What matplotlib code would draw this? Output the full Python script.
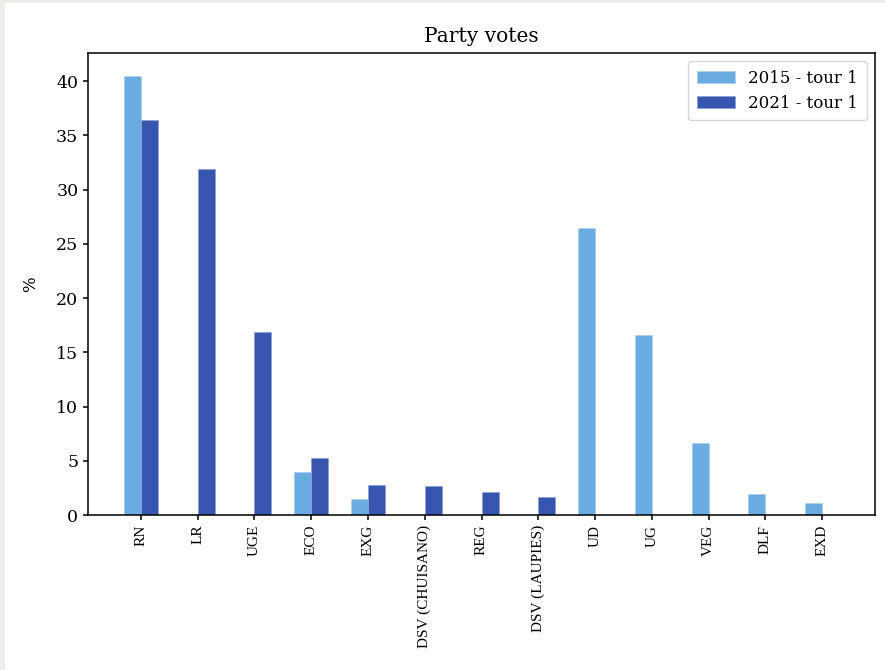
import matplotlib
matplotlib.use("Agg")
import matplotlib.pyplot as plt
import numpy as np
from matplotlib.patches import Rectangle

categories = ["RN", "LR", "UGE", "ECO", "EXG", "DSV (CHUISANO)", "REG",
              "DSV (LAUPIES)", "UD", "UG", "VEG", "DLF", "EXD"]
votes_2015 = [40.5, 0, 0, 4.0, 1.45, 0, 0, 0, 26.5, 16.6, 6.6, 1.95, 1.1]
votes_2021 = [36.4, 31.9, 16.9, 5.25, 2.75, 2.65, 2.15, 1.65, 0, 0, 0, 0, 0]
series_labels = ["2015 - tour 1", "2021 - tour 1"]

serif = ["DejaVu Serif"]
fig = plt.figure(figsize=(8.85, 6.70), dpi=100)
fig.patch.set_facecolor("#eeede8")
bg = Rectangle((5/885, 0), 1, 1 - 3/670, transform=fig.transFigure,
               facecolor="white", edgecolor="none", zorder=-10)
fig.add_artist(bg)

ax = fig.add_axes([88/885, 1 - 515/670, (875 - 88)/885, (515 - 53)/670])
ax.set_zorder(5)
x = np.arange(len(categories))
w = 0.3
ax.bar(x - w/2, votes_2015, w, color="#6aabe1", edgecolor="#a9cff0", linewidth=0.6,
       label=series_labels[0])
ax.bar(x + w/2, votes_2021, w, color="#3756af", edgecolor="#8ea0d6", linewidth=0.6,
       label=series_labels[1])

for s in ax.spines.values():
    s.set_linewidth(1.1)
ax.tick_params(width=1.1)
ax.set_xticks(x)
ax.set_xticklabels(categories, rotation=90, fontsize=11, family="Liberation Serif")
ax.tick_params(axis="y", labelsize=12.5)
for t in ax.get_yticklabels():
    t.set_family(serif)
ax.set_ylabel("%", fontsize=12, family=serif, labelpad=12)
ax.set_title("Party votes", fontsize=14.5, family=serif, pad=8)
ax.set_ylim(0, 42.6)
leg = ax.legend(prop={"family": serif, "size": 12}, loc="upper right",
                borderpad=0.5, handlelength=2.3)
fig.savefig("out.png", dpi=100, facecolor=fig.get_facecolor())
